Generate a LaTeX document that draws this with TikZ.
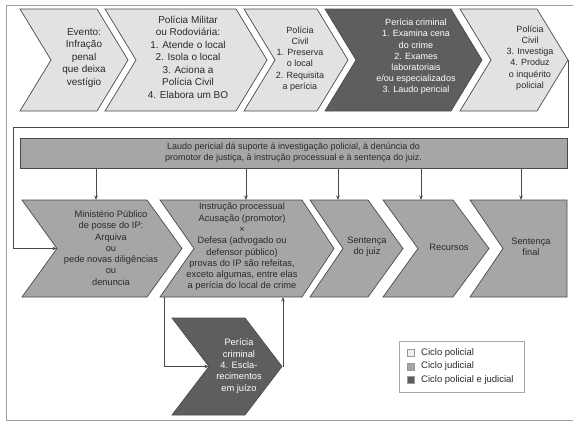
\documentclass[tikz,border=0pt]{standalone}
\usepackage{fontspec}
\setmainfont{Liberation Sans}
\usetikzlibrary{arrows.meta}
\definecolor{lightc}{HTML}{E2E2E2}
\definecolor{midc}{HTML}{A6A6A6}
\definecolor{darkc}{HTML}{5E5E5E}
\definecolor{edgec}{HTML}{4A4A4A}
\definecolor{txtc}{HTML}{2A2A2A}
\begin{document}
\begin{tikzpicture}[x=1pt,y=-1pt,
  chevlight/.style={fill=lightc,draw=edgec,line width=0.7pt},
  chevmid/.style={fill=midc,draw=edgec,line width=0.7pt},
  chevdark/.style={fill=darkc,draw=edgec,line width=0.7pt},
  txt/.style={align=center,text=txtc,inner sep=0pt},
  wtxt/.style={align=center,text=white,inner sep=0pt},
  conn/.style={draw=edgec,line width=0.7pt},
  arr/.style={conn,-{Stealth[length=4.5pt,width=3.5pt]}},
  frameline/.style={draw=gray!75,line width=0.6pt},
  ftop/.style={font=\fontsize{10}{12.5}\selectfont},
  fsmall/.style={font=\fontsize{9}{11.2}\selectfont},
  frow/.style={font=\fontsize{9.3}{11.3}\selectfont}]
\useasboundingbox (0,0) rectangle (573,423);
\draw[frameline] (573,5) -- (6,5) -- (6,420) -- (573,420);

% top row chevrons
\draw[chevlight] (20,9) -- (97,9) -- (128,60) -- (97,111) -- (20,111) -- (51,60) -- cycle;
\draw[chevlight] (105,9) -- (236,9) -- (267,60) -- (236,111) -- (105,111) -- (136,60) -- cycle;
\draw[chevlight] (244,9) -- (317,9) -- (348,60) -- (317,111) -- (244,111) -- (275,60) -- cycle;
\draw[chevdark] (325,9) -- (451,9) -- (482,60) -- (451,111) -- (325,111) -- (356,60) -- cycle;
\draw[chevlight] (460,9) -- (537,9) -- (568,60) -- (537,111) -- (460,111) -- (491,60) -- cycle;
\coordinate (c5tip) at (568,60);

\node[txt,ftop] (t1) at (84,58) {Evento:\\Infração\\penal\\que deixa\\vestígio};
\node[txt,ftop] (t2) at (188,57) {Polícia Militar\\ou Rodoviária:\\1. Atende o local\\2. Isola o local\\3. Aciona a\\Polícia Civil\\4. Elabora um BO};
\node[txt,fsmall] (t3) at (300,59) {Polícia\\Civil\\1. Preserva\\o local\\2. Requisita\\a perícia};
\node[wtxt,fsmall] (t4) at (416,57) {Perícia criminal\\1. Examina cena\\do crime\\2. Exames\\laboratoriais\\e/ou especializados\\3. Laudo pericial};
\node[txt,fsmall] (t5) at (530,58) {Polícia\\Civil\\3. Investiga\\4. Produz\\o inquérito\\policial};

% banner
\node[draw=edgec,fill=midc,line width=0.7pt,minimum width=547pt,minimum height=30pt,inner sep=0pt,
  align=center,text=txtc,font=\fontsize{9}{11}\selectfont] (laudo) at (293.5,153)
  {Laudo pericial dá suporte à investigação policial, à denúncia do\\promotor de justiça, à instrução processual e à sentença do juiz.};

% second row chevrons
\draw[chevmid] (22,200) -- (147,200) -- (182,248.5) -- (147,297) -- (22,297) -- (57,248.5) -- cycle;
\draw[chevmid] (160,200) -- (302,200) -- (334,248.5) -- (302,297) -- (160,297) -- (194,248.5) -- cycle;
\draw[chevmid] (310,200) -- (368,200) -- (403,248.5) -- (368,297) -- (310,297) -- (343,248.5) -- cycle;
\draw[chevmid] (383,200) -- (453,200) -- (489,248.5) -- (453,297) -- (383,297) -- (418,248.5) -- cycle;
\draw[chevmid] (470,200) -- (567,200) -- (567,297) -- (470,297) -- (503,248.5) -- cycle;
\coordinate (mnotch) at (57,248.5);
\coordinate (mtop) at (96,200);
\coordinate (itop) at (246,200);
\coordinate (stop) at (338,200);
\coordinate (rtop) at (421,200);
\coordinate (ftopc) at (521,200);
\coordinate (ibot) at (164,297);
\coordinate (iin) at (283,297);

\node[txt,frow] (m) at (111,248) {Ministério Público\\de posse do IP:\\Arquiva\\ou\\pede novas diligências\\ou\\denuncia};
\node[txt,frow] (i) at (242,247) {Instrução processual\\Acusação (promotor)\\×\\Defesa (advogado ou\\defensor público)\\provas do IP são refeitas,\\exceto algumas, entre elas\\a perícia do local de crime};
\node[txt,frow] (s) at (367,247) {Sentença\\do juiz};
\node[txt,frow] (r) at (449,247) {Recursos};
\node[txt,frow] (f) at (531,247) {Sentença\\final};

% bottom chevron
\draw[chevdark] (172,318) -- (245,318) -- (282,366.5) -- (245,415) -- (172,415) -- (209,366.5) -- cycle;
\coordinate (pnotch) at (209,366.5);
\coordinate (ptip) at (282,366.5);
\node[wtxt,frow] (p) at (239,366) {Perícia\\criminal\\4. Escla-\\recimentos\\em juízo};

% connectors
\draw[arr] (laudo.south -| mtop) -- (mtop);
\draw[arr] (laudo.south -| itop) -- (itop);
\draw[arr] (laudo.south -| stop) -- (stop);
\draw[arr] (laudo.south -| rtop) -- (rtop);
\draw[arr] (laudo.south -| ftopc) -- (ftopc);
\coordinate (b1) at (568,127);
\coordinate (b2) at (13,127);
\coordinate (b3) at (13,248.5);
\draw[arr] (c5tip) -- (b1) -- (b2) -- (b3) -- (mnotch);
\coordinate (b4) at (164,366.5);
\draw[arr] (ibot) -- (b4) -- (pnotch);
\coordinate (b5) at (283,366.5);
\draw[arr] (b5) -- (iin);

% legend
\node[draw=gray!70,line width=0.6pt,fill=white,minimum width=125pt,minimum height=51pt,inner sep=0pt] (legend) at (461.5,366.5) {};
\node[draw=gray!80,fill=lightc!60,minimum size=7pt,inner sep=0pt] (sq1) at (411,353) {};
\node[draw=gray!80,fill=midc,minimum size=7pt,inner sep=0pt] (sq2) at (411,366.5) {};
\node[draw=gray!80,fill=darkc,minimum size=7pt,inner sep=0pt] (sq3) at (411,380) {};
\node[anchor=west,inner sep=0pt,text=txtc,font=\fontsize{9.5}{11}\selectfont] (l1) at (421,353) {Ciclo policial};
\node[anchor=west,inner sep=0pt,text=txtc,font=\fontsize{9.5}{11}\selectfont] (l2) at (421,366.5) {Ciclo judicial};
\node[anchor=west,inner sep=0pt,text=txtc,font=\fontsize{9.5}{11}\selectfont] (l3) at (421,380) {Ciclo policial e judicial};
\end{tikzpicture}
\end{document}
